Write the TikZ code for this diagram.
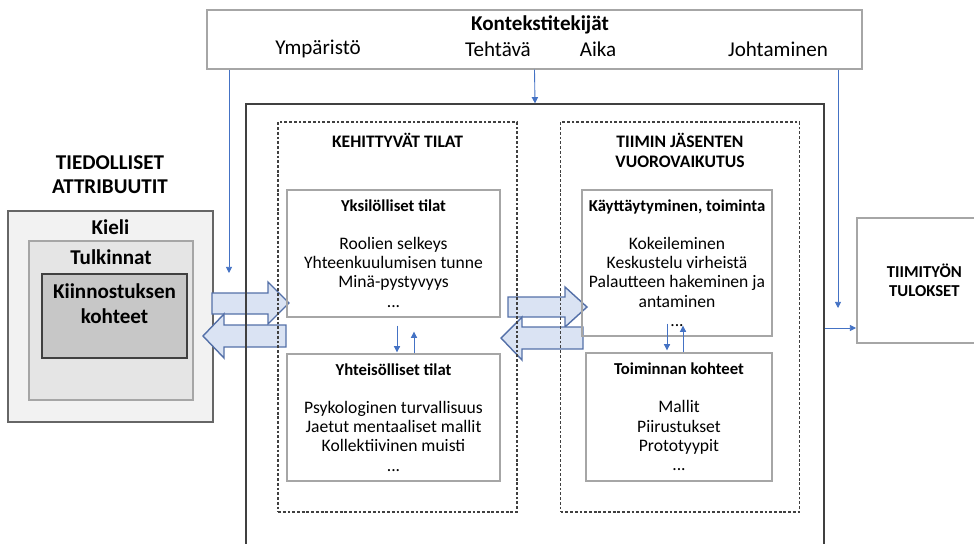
\documentclass[tikz,border=0pt]{standalone}
\usepackage{fontspec}
\setmainfont{Carlito}
\usetikzlibrary{arrows.meta, positioning, calc}
\definecolor{cBlue}{RGB}{68,114,196}
\definecolor{cArrowFill}{RGB}{218,227,243}
\definecolor{cArrowEdge}{RGB}{84,112,168}
\definecolor{cFrame}{RGB}{166,166,166}
\definecolor{cDark}{RGB}{64,64,64}
\tikzset{
	ctxbox/.style   ={draw=cFrame, line width=0.8pt, minimum width=13.1cm, minimum height=1.18cm},
	ctxtitle/.style ={font=\fontsize{12}{14}\selectfont\bfseries},
	ctxitem/.style  ={font=\fontsize{12}{14}\selectfont},
	teambox/.style  ={draw=cDark, line width=0.8pt, minimum width=11.56cm, minimum height=9.12cm},
	dashbox/.style  ={draw=cDark, line width=0.9pt, dash pattern=on 1.6pt off 1.1pt, minimum width=4.78cm, minimum height=7.8cm},
	sectitle/.style ={font=\fontsize{10}{11.3}\selectfont\bfseries, align=center},
	statebox/.style ={draw=cFrame, line width=0.8pt, align=center, font=\fontsize{10}{11}\selectfont},
	resbox/.style   ={draw=cFrame, line width=1pt, minimum width=2.7cm, minimum height=2.5cm, align=center, font=\fontsize{9.5}{10.8}\selectfont\bfseries},
	lvlA/.style     ={draw=cDark!80, fill=black!5, line width=0.8pt, minimum width=4.1cm, minimum height=4.22cm},
	lvlB/.style     ={draw=cFrame, fill=black!10, line width=0.8pt, minimum width=3.28cm, minimum height=3.18cm},
	lvlC/.style     ={draw=cDark, fill=black!22, line width=0.8pt, minimum width=2.9cm, minimum height=1.68cm},
	lvltext/.style  ={font=\fontsize{12}{14}\selectfont\bfseries, align=center},
	thinarrow/.style={-{Triangle[length=3.5pt,width=3.5pt]}, draw=cBlue, line width=0.5pt},
	bigarrow/.style ={draw=cArrowEdge, fill=cArrowFill, line width=0.8pt, line join=miter},
}
\newcommand{\boxhead}[1]{{\fontsize{9.5}{11}\selectfont\bfseries #1}}

\begin{document}
\begin{tikzpicture}[x=0.02cm, y=-0.02cm]
	\useasboundingbox (0,0) rectangle (974,544);

	% tiedolliset attribuutit
	\node[lvltext] (tied) at (110,174.5) {TIEDOLLISET\\ATTRIBUUTIT};
	\node[lvlA] (kieli) at (110.5,316.5) {};
	\node[lvlB] (tulk) at (111,320.5) {};
	\node[lvlC] (kiin) at (114.5,316) {};
	\node[lvltext] (kieliT) at ($(kieli.north)+(0,17)$) {Kieli};
	\node[lvltext] (tulkT) at ($(tulk.north)+(0,17)$) {Tulkinnat};
	\node[lvltext] (kiinT) at ($(kiin.north)+(0,30.5)$) {Kiinnostuksen\\kohteet};

	% block arrows
	\draw[bigarrow] (212,293) -- (268,293) -- (268,282) -- (289,303) -- (268,324) -- (268,314) -- (212,314) -- cycle;
	\draw[bigarrow] (286,325) -- (224,325) -- (224,314) -- (203,336) -- (224,358) -- (224,347) -- (286,347) -- cycle;
	\draw[bigarrow] (508,297) -- (565,297) -- (565,287) -- (587,307) -- (565,327) -- (565,317) -- (508,317) -- cycle;
	\draw[bigarrow] (583,327) -- (522,327) -- (522,317) -- (501,338) -- (522,360) -- (522,349) -- (583,349) -- cycle;

	% kontekstitekijat
	\node[ctxbox] (ctx) at (534.5,39.5) {};
	\node[ctxtitle] (ctxT) at (540,25) {Kontekstitekijät};
	\node[ctxitem] (ymp) at (318,49) {Ympäristö};
	\node[ctxitem] (teh) at (498,49) {Tehtävä};
	\node[ctxitem] (aik) at (598,49) {Aika};
	\node[ctxitem] (joh) at (778,49) {Johtaminen};

	% tiimi
	\node[teambox] (team) at (535,332) {};
	\node[dashbox] (kehB) at (397.5,317) {};
	\node[dashbox] (vuoB) at (680,317) {};
	\node[sectitle] (kehT) at (397.5,140) {KEHITTYVÄT TILAT};
	\node[sectitle] (vuoT) at (680,150) {TIIMIN JÄSENTEN\\VUOROVAIKUTUS};

	\node[statebox, minimum width=4.26cm, minimum height=2.54cm] (yks) at (393.5,253.5)
		{\boxhead{Yksilölliset tilat}\\[10.5pt]Roolien selkeys\\Yhteenkuulumisen tunne\\Minä-pystyvyys\\...};
	\node[statebox, minimum width=4.26cm, minimum height=2.54cm] (yht) at (393.5,417.5)
		{\boxhead{Yhteisölliset tilat}\\[10.5pt]Psykologinen turvallisuus\\Jaetut mentaaliset mallit\\Kollektiivinen muisti\\...};
	\node[statebox, minimum width=3.8cm, minimum height=2.92cm] (kay) at (677,263)
		{\boxhead{Käyttäytyminen, toiminta}\\[10.5pt]Kokeileminen\\Keskustelu virheistä\\Palautteen hakeminen ja\\antaminen\\...};
	\node[statebox, minimum width=3.72cm, minimum height=2.56cm] (toi) at (679,417)
		{\boxhead{Toiminnan kohteet}\\[10.5pt]Mallit\\Piirustukset\\Prototyypit\\...};

	% tulokset
	\node[resbox, anchor=west] (tulos) at (856,280.5) {TIIMITYÖN\\TULOKSET};

	% thin arrows
	\coordinate (ympEnd) at (229,273);
	\coordinate (johEnd) at (838,308);
	\coordinate (outY) at (0,328);
	\draw[thinarrow] (ctx.south -| ympEnd) -- (ympEnd);
	\draw[thinarrow] (ctx.south) -- (team.north);
	\draw[thinarrow] (ctx.south -| johEnd) -- (johEnd);
	\draw[thinarrow] (team.east |- outY) -- (tulos.west |- outY);
	\draw[thinarrow] ($(yks.south)+(3.5,8)$) -- ($(yht.north)+(3.5,-1)$);
	\draw[thinarrow] ($(yht.north)+(20.5,0)$) -- ($(yks.south)+(20.5,14)$);
	\draw[thinarrow] ($(kay.south)+(-10,-13)$) -- ($(toi.north)+(-12,-2)$);
	\draw[thinarrow] ($(toi.north)+(4,0)$) -- ($(kay.south)+(6,-11)$);
\end{tikzpicture}
\end{document}
